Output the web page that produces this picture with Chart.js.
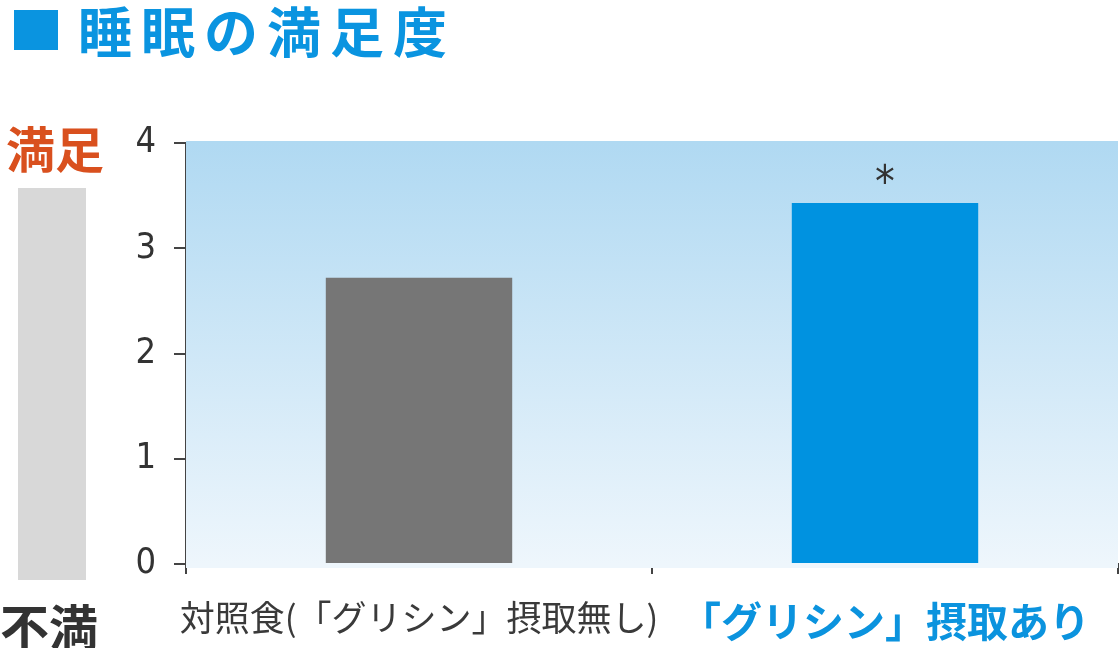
<!DOCTYPE html>
<html>
<head>
<meta charset="utf-8">
<script src="https://cdn.jsdelivr.net/npm/chart.js@4.4.1/dist/chart.umd.min.js"></script>
<style>
  html, body { margin: 0; padding: 0; background: #fff; }
  #wrap { width: 1120px; height: 648px; }
</style>
</head>
<body>
<div id="wrap"><canvas id="sleepChart" width="1120" height="648"></canvas></div>
<script>
// data
const categories = ['対照食(「グリシン」摂取無し)', '「グリシン」摂取あり'];
const scores = [2.72, 3.43];
const yTicks = [0, 1, 2, 3, 4];
const marks = ['', '*'];

const barColors = ['#767676', '#0092e0'];
const labelColors = ['#3a3a3a', '#0b93de'];
const jpFont = '"Noto Sans CJK JP", "Noto Sans", sans-serif';
const numFont = '"Liberation Sans Narrow", "DejaVu Sans Condensed", "Liberation Sans", sans-serif';

// background gradient + decorations
const decor = {
    id: 'decor',
    beforeDatasetsDraw(chart) {
        const { ctx, chartArea: a } = chart;
        const g = ctx.createLinearGradient(0, a.top, 0, a.bottom);
        g.addColorStop(0, '#b0d9f2');
        g.addColorStop(1, '#eef6fc');
        ctx.save();
        ctx.fillStyle = g;
        ctx.fillRect(a.left, a.top - 2, a.right - a.left, a.bottom - a.top + 6);
        ctx.restore();
    },
    afterDraw(chart) {
        const { ctx } = chart;
        ctx.save();
        // title
        ctx.fillStyle = '#0a94e0';
        ctx.fillRect(14, 10, 44, 40);
        ctx.font = 'bold 54px ' + jpFont;
        ctx.textBaseline = 'alphabetic';
        ctx.textAlign = 'left';
        ctx.letterSpacing = '9px';
        ctx.fillText('睡眠の満足度', 78, 53);
        ctx.letterSpacing = '0px';

        // left scale hint
        ctx.fillStyle = '#d8d8d8';
        ctx.fillRect(18, 188, 68, 392);
        ctx.font = 'bold 49px ' + jpFont;
        ctx.fillStyle = '#d9501e';
        ctx.fillText('満足', 6, 168);
        ctx.fillStyle = '#333333';
        ctx.fillText('不満', 0, 646);

        // significance mark
        const meta = chart.getDatasetMeta(0);
        ctx.font = '44px ' + numFont;
        ctx.textAlign = 'center';
        ctx.fillStyle = '#333333';
        meta.data.forEach((bar, i) => {
            if (marks[i]) ctx.fillText(marks[i], bar.x, bar.y - 6);
        });
        ctx.restore();
    }
};

new Chart(document.getElementById('sleepChart'), {
    type: 'bar',
    data: {
        labels: categories,
        datasets: [{
            data: scores,
            backgroundColor: barColors,
            borderWidth: 0,
            barPercentage: 0.8,
            categoryPercentage: 0.5
        }]
    },
    options: {
        responsive: false,
        animation: false,
        layout: { padding: { top: 143, right: 2, left: 0, bottom: 0 } },
        plugins: { legend: { display: false }, tooltip: { enabled: false } },
        scales: {
            x: {
                grid: { display: true, drawOnChartArea: false, offset: true, tickLength: 10, color: '#444', lineWidth: 2 },
                border: { display: true, color: '#444', width: 2 },
                ticks: {
                    maxRotation: 0,
                    autoSkip: false,
                    padding: 23,
                    color: (c) => labelColors[c.index],
                    font: (c) => c.index === 1
                        ? { family: jpFont, size: 41, weight: 'bold' }
                        : { family: jpFont, size: 35, weight: 'normal' }
                },
                afterFit(s) { s.height = 84; }
            },
            y: {
                min: 0,
                max: 4,
                afterBuildTicks(s) { s.ticks = yTicks.map(v => ({ value: v })); },
                grid: { display: true, drawOnChartArea: false, tickLength: 12, color: '#444', lineWidth: 2 },
                border: { display: true, color: '#444', width: 2 },
                ticks: {
                    padding: 18,
                    color: '#333',
                    font: { family: numFont, size: 36 }
                },
                afterFit(s) { s.width = 186; }
            }
        }
    },
    plugins: [decor]
});
</script>
</body>
</html>
